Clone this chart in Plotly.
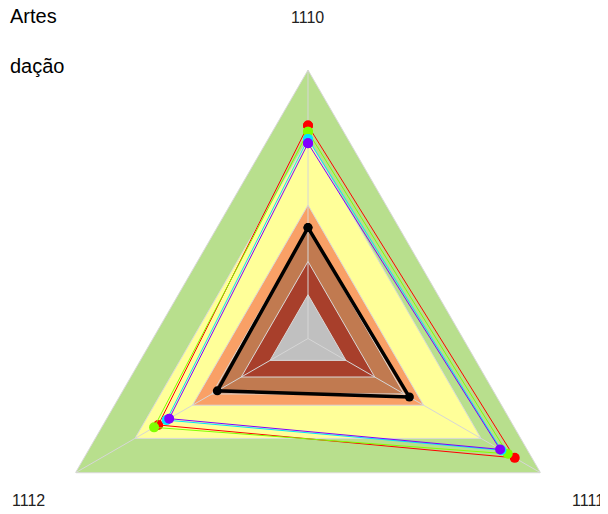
import plotly.graph_objects as go

# ---- data ----
categories = ["1110", "1111", "1112"]

band_levels = [1.0, 0.744, 0.497, 0.413, 0.287, 0.163]
band_colors = ["#b8df8d", "#ffff99", "#f9a066", "#c17a50", "#a83f2b", "#c0c0c0"]

black_values = [0.413, 0.436, 0.390]
red_values = [0.793, 0.889, 0.644]
lime_values = [0.770, 0.859, 0.662]
cyan_values = [0.743, 0.832, 0.608]
violet_values = [0.727, 0.826, 0.597]

series = [
    ("red", red_values, "#ff0000"),
    ("lime", lime_values, "#80ff00"),
    ("cyan", cyan_values, "#00e5ff"),
    ("violet", violet_values, "#8000ff"),
]

legend_texts = ["Artes", "dação"]

# ---- figure ----
W, H = 608, 612
ML, MR, MT, MB = 31.3, 39.3, 62, 12.6
plot_w = W - ML - MR
plot_h = H - MT - MB


def px_to_paper(xpx, ypx):
    return (xpx - ML) / plot_w, (H - MB - ypx) / plot_h


def closed(vals):
    return list(vals) + [vals[0]]


theta_closed = closed(categories)

fig = go.Figure()

# bands (largest first)
for lvl, col in zip(band_levels, band_colors):
    fig.add_trace(go.Scatterpolar(
        r=closed([lvl] * len(categories)), theta=theta_closed,
        mode="lines", fill="toself", fillcolor=col,
        line=dict(color="#d9d9d9", width=1),
        hoverinfo="skip", showlegend=False,
    ))

# spokes
for cat in categories:
    fig.add_trace(go.Scatterpolar(
        r=[0, band_levels[0]], theta=[cat, cat], mode="lines",
        line=dict(color="#d6d6d6", width=1),
        hoverinfo="skip", showlegend=False,
    ))

# black series
fig.add_trace(go.Scatterpolar(
    r=closed(black_values), theta=theta_closed, mode="lines+markers",
    line=dict(color="black", width=3.5),
    marker=dict(color="black", size=9),
    showlegend=False,
))

for name, vals, col in series:
    fig.add_trace(go.Scatterpolar(
        r=closed(vals), theta=theta_closed, mode="lines+markers",
        line=dict(color=col, width=1),
        marker=dict(color=col, size=10),
        name=name, showlegend=False,
    ))

# axis labels (placed outside the polar area)
label_px = [(300, 9), (579.5, 492.7), (21, 492.7)]
for txt, (xp, yp) in zip(categories, label_px):
    xa, ya = px_to_paper(xp, yp)
    fig.add_annotation(
        text=txt, xref="paper", yref="paper", x=xa, y=ya,
        xanchor="center", yanchor="middle", showarrow=False,
        font=dict(family="Liberation Sans, Arial, sans-serif", size=16, color="#222222"),
    )

# cut-off legend texts
legend_y_px = [8, 58]
for txt, ypx in zip(legend_texts, legend_y_px):
    xa, ya = px_to_paper(0, ypx)
    fig.add_annotation(
        text=txt, xref="paper", yref="paper", x=xa, y=ya,
        xanchor="left", yanchor="middle", showarrow=False,
        font=dict(family="Liberation Sans, Arial, sans-serif", size=20, color="black"),
    )

fig.update_layout(
    width=W, height=H,
    margin=dict(l=ML, r=MR, t=MT, b=MB, pad=0),
    paper_bgcolor="white",
    showlegend=False,
    polar=dict(
        bgcolor="rgba(0,0,0,0)",
        gridshape="circular",
        radialaxis=dict(visible=False, range=[0, 1], showgrid=False),
        angularaxis=dict(
            visible=False, type="category", categoryorder="array",
            categoryarray=categories, rotation=90, direction="clockwise",
            showgrid=False,
        ),
    ),
)

fig.write_html("out.html")
